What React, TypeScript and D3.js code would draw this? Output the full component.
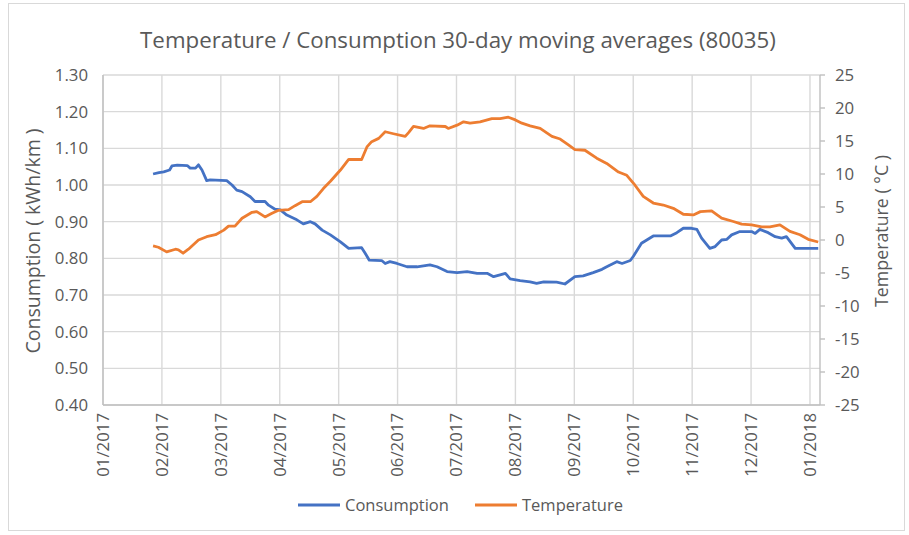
import React from "react";
import * as d3 from "d3";

// Month positions: 0 = 01/2017, 1 = 02/2017, ... 12 = 01/2018 (axis has equal month spacing)
const monthLabels = ["01/2017","02/2017","03/2017","04/2017","05/2017","06/2017","07/2017","08/2017","09/2017","10/2017","11/2017","12/2017","01/2018"];
const consTicks = [0.4,0.5,0.6,0.7,0.8,0.9,1.0,1.1,1.2,1.3];
const tempTicks = [-25,-20,-15,-10,-5,0,5,10,15,20,25];

const consMonth = [0.85,0.95,1.03,1.13,1.17,1.26,1.43,1.48,1.57,1.62,1.68,1.76,1.82,2.10,2.19,2.27,2.36,2.50,2.58,2.75,2.81,2.92,3.01,3.12,3.29,3.40,3.52,3.60,3.72,3.86,4.03,4.17,4.39,4.45,4.52,4.73,4.79,4.87,4.99,5.16,5.33,5.55,5.67,5.84,6.01,6.18,6.35,6.52,6.63,6.74,6.83,6.91,7.08,7.25,7.36,7.48,7.70,7.84,8.01,8.15,8.32,8.47,8.55,8.72,8.81,8.95,9.00,9.14,9.23,9.34,9.63,9.74,9.85,9.99,10.08,10.16,10.30,10.39,10.50,10.59,10.67,10.81,11.01,11.07,11.15,11.29,11.41,11.52,11.60,11.75,12.14];
const consValue = [1.030,1.034,1.036,1.041,1.052,1.054,1.053,1.046,1.046,1.055,1.041,1.012,1.014,1.012,1.000,0.986,0.982,0.968,0.955,0.955,0.945,0.934,0.932,0.918,0.905,0.894,0.900,0.894,0.877,0.864,0.845,0.827,0.829,0.814,0.795,0.794,0.786,0.791,0.786,0.777,0.777,0.782,0.777,0.764,0.761,0.764,0.759,0.759,0.750,0.755,0.759,0.744,0.739,0.736,0.732,0.736,0.735,0.730,0.750,0.752,0.761,0.770,0.777,0.791,0.786,0.794,0.805,0.841,0.850,0.861,0.861,0.870,0.882,0.882,0.879,0.855,0.827,0.832,0.850,0.852,0.864,0.873,0.873,0.868,0.879,0.870,0.859,0.855,0.859,0.827,0.827];

const tempMonth = [0.85,0.94,1.08,1.23,1.28,1.36,1.45,1.62,1.76,1.91,2.05,2.13,2.24,2.36,2.53,2.61,2.75,2.86,2.98,3.15,3.26,3.38,3.52,3.63,3.74,3.86,4.03,4.17,4.39,4.48,4.56,4.68,4.79,4.93,5.13,5.19,5.27,5.44,5.55,5.81,5.86,6.01,6.12,6.23,6.40,6.60,6.74,6.88,7.00,7.11,7.25,7.42,7.62,7.76,7.90,8.01,8.18,8.38,8.55,8.75,8.89,9.03,9.17,9.34,9.51,9.68,9.85,10.02,10.14,10.33,10.50,10.70,10.84,11.01,11.18,11.32,11.49,11.66,11.83,11.97,12.14];
const tempValue = [-0.9,-1.1,-1.8,-1.4,-1.5,-2.0,-1.4,0.0,0.5,0.8,1.5,2.1,2.1,3.3,4.2,4.3,3.5,4.0,4.5,4.6,5.2,5.8,5.8,6.6,7.8,8.9,10.6,12.2,12.2,14.1,14.9,15.4,16.4,16.1,15.7,16.3,17.2,16.9,17.3,17.2,16.9,17.4,17.9,17.7,17.9,18.4,18.4,18.6,18.2,17.7,17.3,16.9,15.7,15.3,14.4,13.7,13.6,12.4,11.6,10.3,9.8,8.3,6.6,5.6,5.3,4.8,3.9,3.8,4.3,4.4,3.3,2.8,2.4,2.3,2.0,2.0,2.3,1.3,0.8,0.1,-0.3];

const W = 909, H = 535;
const left = 103, right = 820, top = 75, bottom = 405;
const FONT = "'Open Sans', 'Noto Sans', sans-serif";
const TXT = "#595959";
const GRID = "#d9d9d9";

export default function App() {
  const x = d3.scaleLinear().domain([0, 12.17]).range([left, right]);
  const yC = d3.scaleLinear().domain([0.4, 1.3]).range([bottom, top]);
  const yT = d3.scaleLinear().domain([-25, 25]).range([bottom, top]);

  const consData = consMonth.map((m, i) => [m, consValue[i]] as [number, number]);
  const tempData = tempMonth.map((m, i) => [m, tempValue[i]] as [number, number]);

  const consLine = d3.line<[number, number]>().x(d => x(d[0])).y(d => yC(d[1]));
  const tempLine = d3.line<[number, number]>().x(d => x(d[0])).y(d => yT(d[1]));

  return (
    <svg width={W} height={H} style={{ position: "absolute", left: 0, top: 0, background: "#fff" }} fontFamily={FONT}>
      <rect x={8.5} y={3.5} width={896} height={527} fill="#fff" stroke={GRID} strokeWidth={1} />
      <text x={458} y={48} textAnchor="middle" fontSize={22.3} fill={TXT}>
        Temperature / Consumption 30-day moving averages (80035)
      </text>

      {/* horizontal grid */}
      {consTicks.map(t => (
        <line key={"h" + t} x1={left} x2={right} y1={yC(t)} y2={yC(t)} stroke={GRID} strokeWidth={1.4} />
      ))}
      {/* vertical grid */}
      {monthLabels.map((_, i) => (
        <line key={"v" + i} x1={x(i)} x2={x(i)} y1={top} y2={bottom} stroke={GRID} strokeWidth={1.4} />
      ))}
      {/* axes */}
      <line x1={left} x2={left} y1={top} y2={bottom} stroke="#bfbfbf" strokeWidth={1.4} />
      <line x1={left} x2={right} y1={bottom} y2={bottom} stroke="#bfbfbf" strokeWidth={1.4} />
      <line x1={right} x2={right} y1={top} y2={bottom} stroke="#bfbfbf" strokeWidth={1.4} />
      {tempTicks.map(t => (
        <line key={"rt" + t} x1={right} x2={right + 5} y1={yT(t)} y2={yT(t)} stroke="#bfbfbf" strokeWidth={1.4} />
      ))}

      {/* left tick labels */}
      {consTicks.map(t => (
        <text key={"lc" + t} x={88} y={yC(t)} dy="0.35em" textAnchor="end" fontSize={16.8} fill={TXT}>
          {d3.format(".2f")(t)}
        </text>
      ))}
      {/* right tick labels */}
      {tempTicks.map(t => (
        <text key={"lt" + t} x={835} y={yT(t)} dy="0.35em" textAnchor="start" fontSize={16.8} fill={TXT}>
          {String(t)}
        </text>
      ))}
      {/* x labels */}
      {monthLabels.map((lab, i) => (
        <text key={"xl" + i} transform={`translate(${x(i)},${413}) rotate(-90)`} dy="0.35em" textAnchor="end" fontSize={16.8} fill={TXT}>
          {lab}
        </text>
      ))}

      {/* axis titles */}
      <text transform={`translate(33,241) rotate(-90)`} dy="0.35em" textAnchor="middle" fontSize={19.5} fill={TXT}>
        Consumption ( kWh/km )
      </text>
      <text transform={`translate(882,231) rotate(-90)`} dy="0.35em" textAnchor="middle" fontSize={17.8} fill={TXT}>
        Temperature ( °C )
      </text>

      {/* series */}
      <path d={consLine(consData) || ""} fill="none" stroke="#4472C4" strokeWidth={2.8} strokeLinejoin="round" />
      <path d={tempLine(tempData) || ""} fill="none" stroke="#ED7D31" strokeWidth={2.8} strokeLinejoin="round" />

      {/* legend */}
      <line x1={298} x2={340} y1={505} y2={505} stroke="#4472C4" strokeWidth={2.8} />
      <text x={345} y={505} dy="0.35em" fontSize={16.5} fill={TXT}>Consumption</text>
      <line x1={475} x2={517} y1={505} y2={505} stroke="#ED7D31" strokeWidth={2.8} />
      <text x={522} y={505} dy="0.35em" fontSize={16.5} fill={TXT}>Temperature</text>
    </svg>
  );
}
